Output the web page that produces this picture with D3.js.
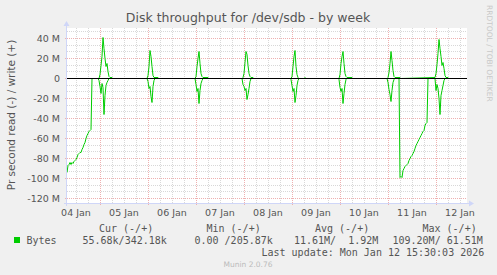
<!DOCTYPE html>
<html>
<head>
<meta charset="utf-8">
<script src="https://cdn.jsdelivr.net/npm/d3@7"></script>
<style>
  body { margin: 0; background: #f0f0f0; }
  svg text { font-family: "DejaVu Sans", sans-serif; }
  .mono { font-family: "DejaVu Sans Mono", monospace; font-size: 10px; fill: #555; }
</style>
</head>
<body>
<svg id="chart" width="497" height="275"></svg>
<script>
// time range shown (half hour resolution)
let timeStart = '01-04 07:30', timeEnd = '01-12 15:30'
let dayLabels = ['04 Jan', '05 Jan', '06 Jan', '07 Jan', '08 Jan', '09 Jan', '10 Jan', '11 Jan', '12 Jan']
let yTicks = [40, 20, 0, -20, -40, -60, -80, -100, -120]

// bytes written per second, in M (plotted upwards)
let writeTimes = ['01-04 07:30',
    '01-04 23:30', '01-05 00:00', '01-05 00:30', '01-05 01:00', '01-05 01:30', '01-05 02:00', '01-05 02:30', '01-05 03:00', '01-05 03:30', '01-05 04:00', '01-05 04:30', '01-05 05:00', '01-05 06:00', '01-05 06:30',
    '01-05 23:30', '01-06 00:00', '01-06 00:30', '01-06 01:00', '01-06 01:30', '01-06 02:00', '01-06 02:30', '01-06 03:00', '01-06 05:00', '01-06 05:30',
    '01-06 23:30', '01-07 00:00', '01-07 00:30', '01-07 01:00', '01-07 01:30', '01-07 02:00', '01-07 02:30', '01-07 03:00', '01-07 03:30', '01-07 06:00', '01-07 06:30',
    '01-07 23:00', '01-07 23:30', '01-08 00:00', '01-08 00:30', '01-08 01:00', '01-08 01:30', '01-08 02:00', '01-08 02:30', '01-08 03:00', '01-08 03:30', '01-08 04:30', '01-08 05:00',
    '01-08 23:30', '01-09 00:00', '01-09 00:30', '01-09 01:00', '01-09 01:30', '01-09 02:00', '01-09 02:30', '01-09 03:00', '01-09 03:30', '01-09 06:00', '01-09 06:30', '01-09 07:00',
    '01-09 23:30', '01-10 00:00', '01-10 00:30', '01-10 01:00', '01-10 01:30', '01-10 02:00', '01-10 02:30', '01-10 03:00', '01-10 03:30', '01-10 06:00', '01-10 06:30',
    '01-10 23:30', '01-11 00:00', '01-11 00:30', '01-11 01:00', '01-11 01:30', '01-11 02:00', '01-11 02:30', '01-11 03:00', '01-11 03:30', '01-11 06:00', '01-11 06:30',
    '01-11 23:30', '01-12 00:00', '01-12 00:30', '01-12 01:00', '01-12 01:30', '01-12 02:00', '01-12 02:30', '01-12 03:00', '01-12 03:30', '01-12 04:00', '01-12 04:30', '01-12 05:00', '01-12 06:00', '01-12 06:30',
    '01-12 15:30']
let writeMB = [0,
    0, 4, 13, 22, 41, 30, 20, 12, 15, 7, 2, 1, 1, 0,
    0, 3, 12, 28, 22, 12, 3, 1, 1, 0,
    0, 2, 12, 20, 27, 15, 5, 2, 1, 1, 0,
    0, 1, 5, 16, 27, 24, 13, 5, 2, 1, 1, 0,
    0, 2, 12, 22, 28, 12, 4, 1, 0, 0, 1, 0,
    0, 4, 15, 22, 27, 15, 5, 2, 1, 1, 0,
    0, 1, 6, 15, 27, 18, 8, 2, 1, 1, 0,
    1, 5, 14, 25, 39, 30, 22, 13, 16, 10, 3, 1, 1, 0,
    0]

// bytes read per second, in M (plotted downwards)
let readTimes = ['01-04 07:30', '01-04 08:00', '01-04 08:30', '01-04 09:00', '01-04 09:30', '01-04 10:00', '01-04 10:30', '01-04 11:00', '01-04 11:30', '01-04 12:00', '01-04 12:30', '01-04 13:00', '01-04 13:30', '01-04 14:00', '01-04 14:30', '01-04 15:00', '01-04 15:30', '01-04 16:00', '01-04 16:30', '01-04 17:00', '01-04 17:30', '01-04 18:00', '01-04 18:30', '01-04 19:00', '01-04 19:30', '01-04 20:00',
    '01-04 23:00', '01-04 23:30', '01-05 00:00', '01-05 00:30', '01-05 01:00', '01-05 01:30', '01-05 02:00', '01-05 02:30', '01-05 03:00', '01-05 03:30', '01-05 04:00', '01-05 04:30',
    '01-05 23:30', '01-06 00:00', '01-06 00:30', '01-06 01:00', '01-06 01:30', '01-06 02:00', '01-06 02:30', '01-06 03:00', '01-06 03:30',
    '01-06 23:30', '01-07 00:00', '01-07 00:30', '01-07 01:00', '01-07 01:30', '01-07 02:00', '01-07 02:30', '01-07 03:00', '01-07 03:30',
    '01-07 23:00', '01-07 23:30', '01-08 00:00', '01-08 00:30', '01-08 01:00', '01-08 01:30', '01-08 02:00', '01-08 02:30', '01-08 03:00', '01-08 03:30',
    '01-08 23:00', '01-08 23:30', '01-09 00:00', '01-09 00:30', '01-09 01:00', '01-09 01:30', '01-09 02:00', '01-09 02:30', '01-09 03:00', '01-09 03:30',
    '01-09 23:00', '01-09 23:30', '01-10 00:00', '01-10 00:30', '01-10 01:00', '01-10 01:30', '01-10 02:00', '01-10 02:30', '01-10 03:00', '01-10 03:30',
    '01-10 23:30', '01-11 00:00', '01-11 00:30', '01-11 01:00', '01-11 01:30', '01-11 02:00', '01-11 02:30', '01-11 03:00', '01-11 03:30',
    '01-11 05:30', '01-11 06:00', '01-11 06:30', '01-11 07:00', '01-11 07:30', '01-11 08:00', '01-11 08:30', '01-11 09:00', '01-11 09:30', '01-11 10:00', '01-11 10:30', '01-11 11:00', '01-11 11:30', '01-11 12:00', '01-11 12:30', '01-11 13:00', '01-11 13:30', '01-11 14:00', '01-11 14:30', '01-11 15:00', '01-11 15:30', '01-11 16:00', '01-11 16:30', '01-11 17:00', '01-11 17:30', '01-11 18:00', '01-11 18:30', '01-11 19:00', '01-11 19:30', '01-11 20:00',
    '01-11 23:30', '01-12 00:00', '01-12 00:30', '01-12 01:00', '01-12 01:30', '01-12 02:00', '01-12 02:30', '01-12 03:00', '01-12 03:30', '01-12 04:00', '01-12 04:30',
    '01-12 15:30']
let readMB = [94, 87, 86, 84, 86, 84, 85, 83, 82, 81, 79, 76, 75, 74, 74, 71, 69, 66, 64, 60, 57, 55, 53, 52, 51, 0,
    0, 2, 8, 15, 5, 9, 36, 17, 7, 4, 2, 0,
    0, 3, 10, 8, 18, 24, 8, 2, 0,
    0, 6, 13, 10, 25, 12, 5, 2, 0,
    0, 6, 8, 12, 10, 21, 16, 10, 3, 0,
    0, 1, 7, 13, 10, 24, 17, 7, 2, 0,
    0, 1, 9, 13, 10, 25, 15, 6, 1, 0,
    0, 4, 11, 16, 23, 12, 4, 1, 0,
    0, 99, 98, 99, 92, 90, 88, 87, 86, 85, 82, 80, 78, 77, 75, 73, 70, 67, 65, 63, 61, 59, 57, 55, 53, 52, 47, 45, 44, 0,
    0, 12, 6, 10, 20, 36, 17, 12, 7, 2, 0,
    0]

let legendHeads = ['Cur (-/+)', 'Min (-/+)', 'Avg (-/+)', 'Max (-/+)']
let legendValues = ['55.68k/342.18k', '0.00 /205.87k', '11.61M/  1.92M', '109.20M/ 61.51M']

function main() {
    let parse = d3.timeParse('%Y-%m-%d %H:%M'),
        t = s => parse('2026-' + s)
    let svg = d3.select('#chart'),
        plot = {left: 67, right: 467, top: 28, bottom: 203}

    let x = d3.scaleTime().domain([t(timeStart), t(timeEnd)]).range([plot.left, plot.right])
    let y = d3.scaleLinear().domain([-124.5, 50.5]).range([plot.bottom, plot.top])

    svg.append('rect').attr('width', 497).attr('height', 275).attr('fill', '#f0f0f0')
    svg.append('rect')
        .attr('x', plot.left).attr('y', plot.top)
        .attr('width', plot.right - plot.left).attr('height', plot.bottom - plot.top)
        .attr('fill', '#ffffff')

    // minor grid
    let minorX = d3.timeHour.every(6).range(t(timeStart), t(timeEnd)).filter(d => d.getHours() !== 0)
    let minorY = []
    yTicks.forEach(v => { minorY.push(v + 20 / 3, v + 40 / 3) })
    minorY = minorY.filter(v => y(v) > plot.top && y(v) < plot.bottom)

    let grid = svg.append('g')
    grid.selectAll('.vminor').data(minorX).enter().append('line')
        .attr('x1', d => Math.round(x(d)) + 0.5).attr('x2', d => Math.round(x(d)) + 0.5)
        .attr('y1', plot.top).attr('y2', plot.bottom)
        .attr('stroke', '#d8d8d8').attr('stroke-dasharray', '1,1')
    grid.selectAll('.hminor').data(minorY).enter().append('line')
        .attr('x1', plot.left).attr('x2', plot.right)
        .attr('y1', d => Math.floor(y(d)) + 0.5).attr('y2', d => Math.floor(y(d)) + 0.5)
        .attr('stroke', '#d8d8d8').attr('stroke-dasharray', '1,1')

    // major grid
    let majorX = d3.timeDay.range(t(timeStart), t(timeEnd))
    grid.selectAll('.vmajor').data(majorX).enter().append('line')
        .attr('x1', d => Math.round(x(d)) + 0.5).attr('x2', d => Math.round(x(d)) + 0.5)
        .attr('y1', plot.top).attr('y2', plot.bottom + 3)
        .attr('stroke', '#eeb0b0').attr('stroke-dasharray', '1,1')
    grid.selectAll('.hmajor').data(yTicks).enter().append('line')
        .attr('x1', plot.left - 2).attr('x2', plot.right)
        .attr('y1', d => Math.floor(y(d)) + 0.5).attr('y2', d => Math.floor(y(d)) + 0.5)
        .attr('stroke', '#eeb0b0').attr('stroke-dasharray', '1,1')

    // series
    let line = d3.line().x(d => x(d[0])).y(d => y(d[1]))
    let writeData = writeTimes.map((s, i) => [t(s), writeMB[i]])
    let readData = readTimes.map((s, i) => [t(s), -readMB[i]])
    svg.append('path').attr('d', line(readData))
        .attr('fill', 'none').attr('stroke', '#00cc00').attr('stroke-width', 1)
    svg.append('path').attr('d', line(writeData))
        .attr('fill', 'none').attr('stroke', '#00cc00').attr('stroke-width', 1)

    // zero line
    svg.append('line')
        .attr('x1', plot.left).attr('x2', plot.right)
        .attr('y1', y(0)).attr('y2', y(0))
        .attr('stroke', '#000').attr('stroke-width', 1.2)

    // axes with arrows
    let axisColor = '#cfd6f8'
    svg.append('line').attr('x1', plot.left - 0.5).attr('x2', plot.left - 0.5)
        .attr('y1', plot.bottom + 3).attr('y2', plot.top - 5)
        .attr('stroke', axisColor)
    svg.append('path')
        .attr('d', d3.line()([[plot.left - 3.5, plot.top - 2], [plot.left + 2.5, plot.top - 2], [plot.left - 0.5, plot.top - 7]]) + 'Z')
        .attr('fill', axisColor)
    svg.append('line').attr('x1', plot.left - 3).attr('x2', plot.right + 4)
        .attr('y1', plot.bottom + 0.5).attr('y2', plot.bottom + 0.5)
        .attr('stroke', axisColor)
    svg.append('path')
        .attr('d', d3.line()([[plot.right + 2, plot.bottom - 2.5], [plot.right + 2, plot.bottom + 3.5], [plot.right + 7, plot.bottom + 0.5]]) + 'Z')
        .attr('fill', axisColor)

    // tick labels
    svg.append('g').selectAll('text').data(yTicks).enter().append('text')
        .attr('x', 60).attr('y', d => y(d) + 3.5)
        .attr('text-anchor', 'end').attr('font-size', 9.5).attr('fill', '#555')
        .text(d => d === 0 ? '0' : d + ' M')
    let noons = majorX.map(d => d3.timeHour.offset(d, 12))
    noons.unshift(d3.timeHour.offset(majorX[0], -12))
    svg.append('g').selectAll('text').data(noons).enter().append('text')
        .attr('x', d => x(d)).attr('y', 215.5)
        .attr('text-anchor', 'middle').attr('font-size', 9.5).attr('fill', '#555')
        .text((d, i) => dayLabels[i])

    // titles
    svg.append('text').attr('x', 248).attr('y', 22)
        .attr('text-anchor', 'middle').attr('font-size', 12.5).attr('fill', '#555')
        .text('Disk throughput for /dev/sdb - by week')
    svg.append('text')
        .attr('transform', 'translate(15,' + 115 + ') rotate(-90)')
        .attr('text-anchor', 'middle').attr('font-size', 10.5).attr('fill', '#555')
        .text('Pr second read (-) / write (+)')
    svg.append('text')
        .attr('transform', 'translate(486.5,5) rotate(90)')
        .attr('text-anchor', 'start').attr('font-size', 7.5).attr('fill', '#c8c8c8')
        .text('RRDTOOL / TOBI OETIKER')

    // legend
    svg.append('rect').attr('x', 14).attr('y', 237).attr('width', 6).attr('height', 6).attr('fill', '#00cc00')
    svg.append('text').attr('class', 'mono').attr('x', 26.5).attr('y', 244).text('Bytes')
    let headX = [99, 206.5, 315, 422.5], valX = [82.5, 194.5, 294, 392.5]
    legendHeads.forEach((h, i) => {
        svg.append('text').attr('class', 'mono').attr('x', headX[i]).attr('y', 231.5)
            .attr('xml:space', 'preserve').text(h)
        svg.append('text').attr('class', 'mono').attr('x', valX[i]).attr('y', 244)
            .attr('xml:space', 'preserve').style('white-space', 'pre').text(legendValues[i])
    })
    svg.append('text').attr('class', 'mono').attr('x', 261.5).attr('y', 256)
        .text('Last update: Mon Jan 12 15:30:03 2026')
    svg.append('text').attr('x', 248).attr('y', 267)
        .attr('text-anchor', 'middle').attr('font-size', 7.5).attr('fill', '#bbbbbb')
        .text('Munin 2.0.76')
}

main()
</script>
</body>
</html>
